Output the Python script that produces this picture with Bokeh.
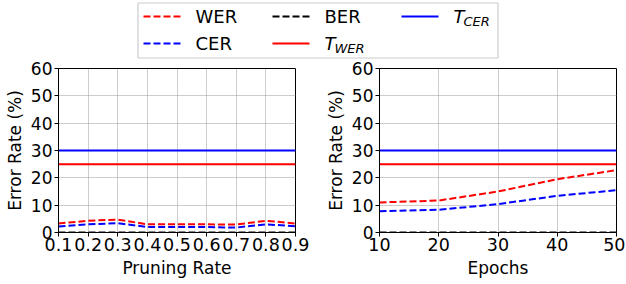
from bokeh.plotting import figure
from bokeh.layouts import column, row
from bokeh.models import Range1d, FixedTicker, Label
from bokeh.embed import file_html
from bokeh.resources import INLINE

# ---- data ----
pruning_rate = [0.1, 0.2, 0.3, 0.4, 0.5, 0.6, 0.7, 0.8, 0.9]
wer_pruning = [3.3, 4.3, 4.7, 3.0, 3.0, 3.0, 2.9, 4.3, 3.3]
cer_pruning = [2.2, 3.0, 3.4, 2.0, 2.0, 2.0, 1.8, 3.0, 2.3]
ber_pruning = [0, 0, 0, 0, 0, 0, 0, 0, 0]

epochs = [10, 20, 30, 40, 50]
wer_epochs = [11.0, 11.7, 15.0, 19.5, 22.8]
cer_epochs = [7.8, 8.3, 10.4, 13.4, 15.5]
ber_epochs = [0, 0, 0, 0, 0]

t_wer = 25
t_cer = 30
y_ticks = [0, 10, 20, 30, 40, 50, 60]

FONT = "DejaVu Sans"
DASH = "7 3"


def make_panel(x, wer, cer, ber, xlabel, xticks, bl, br):
    p = figure(frame_width=237, frame_height=164, output_backend="svg", toolbar_location=None,
               x_range=Range1d(x[0], x[-1]), y_range=Range1d(0, 60),
               min_border_left=bl, min_border_right=br, min_border_top=9, min_border_bottom=48)
    p.line(x, wer, line_color="red", line_width=2, line_dash=DASH)
    p.line(x, cer, line_color="blue", line_width=2, line_dash=DASH)
    p.line(x, ber, line_color="black", line_width=2, line_dash=DASH)
    p.line(x, [t_wer] * len(x), line_color="red", line_width=2)
    p.line(x, [t_cer] * len(x), line_color="blue", line_width=2)
    p.xaxis.ticker = FixedTicker(ticks=xticks)
    p.yaxis.ticker = FixedTicker(ticks=y_ticks)
    p.xaxis.axis_label = xlabel
    p.yaxis.axis_label = "Error Rate (%)"
    for ax in (p.xaxis, p.yaxis):
        ax.axis_label_text_font = FONT
        ax.axis_label_text_font_size = "17px"
        ax.axis_label_text_font_style = "normal"
        ax.axis_label_text_color = "black"
        ax.major_label_text_font = FONT
        ax.major_label_text_color = "black"
        ax.major_tick_out = 4
        ax.major_tick_in = 0
        ax.minor_tick_line_color = None
        ax.axis_line_color = "black"
        ax.major_tick_line_color = "black"
    p.xaxis.major_label_standoff = 1
    p.xaxis.axis_label_standoff = 4
    p.yaxis.major_label_standoff = 2
    p.yaxis.axis_label_standoff = 3
    p.xaxis.major_label_text_font_size = "17.5px"
    p.yaxis.major_label_text_font_size = "17px"
    p.grid.grid_line_color = "#9a9a9a"
    p.grid.grid_line_dash = "1 1"
    p.grid.grid_line_width = 1
    p.outline_line_color = "black"
    p.outline_line_width = 1
    p.outline_line_alpha = 1
    return p


p1 = make_panel(pruning_rate, wer_pruning, cer_pruning, ber_pruning, "Pruning Rate",
                pruning_rate, 58, 26)
p2 = make_panel(epochs, wer_epochs, cer_epochs, ber_epochs, "Epochs", epochs, 58, 9)

# ---- legend ----
LW, LH = 625, 59
lg = figure(width=LW, height=LH, output_backend="svg", toolbar_location=None,
            x_range=Range1d(0, LW), y_range=Range1d(0, LH), min_border=0,
            x_axis_type=None, y_axis_type=None)
lg.grid.visible = False
lg.outline_line_color = None
lg.quad(left=[137.5], right=[497.5], bottom=[1.5], top=[56.5], fill_color=None,
        line_color="#cccccc", line_width=1.2)

row1, row2 = 43, 16
entries = [
    (143, row1, "red", DASH, "WER", None),
    (143, row2, "blue", DASH, "CER", None),
    (272, row1, "black", DASH, "BER", None),
    (272, row2, "red", None, "T", "WER"),
    (401, row1, "blue", None, "T", "CER"),
]
for x0, y0, c, dash, lab, sub in entries:
    kw = dict(line_color=c, line_width=2)
    if dash:
        kw["line_dash"] = dash
    lg.line([x0, x0 + 37], [y0, y0], **kw)
    tx = x0 + 52
    if sub is None:
        lg.add_layout(Label(x=tx, y=y0, text=lab, text_font=FONT, text_font_size="18px",
                            text_baseline="middle", text_color="black"))
    else:
        lg.add_layout(Label(x=tx, y=y0, text=lab, text_font=FONT, text_font_size="18px",
                            text_font_style="italic", text_baseline="middle", text_color="black"))
        lg.add_layout(Label(x=tx + 10, y=y0 - 5, text=sub, text_font=FONT, text_font_size="13px",
                            text_font_style="italic", text_baseline="middle", text_color="black"))

layout = column(lg, row(p1, p2))
open("out.html", "w").write(file_html(layout, INLINE))
